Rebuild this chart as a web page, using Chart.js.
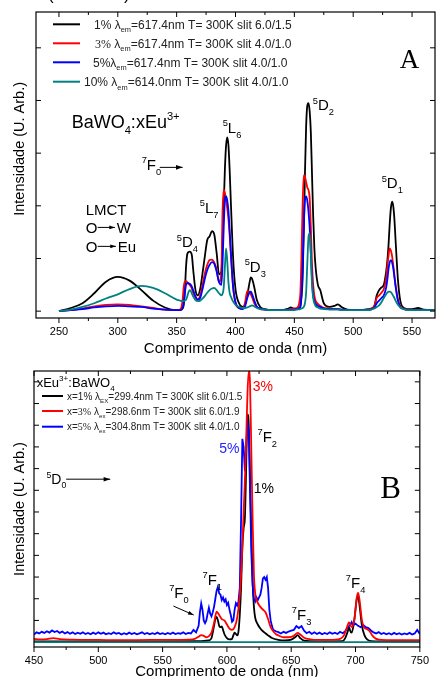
<!DOCTYPE html>
<html><head><meta charset="utf-8">
<script src="https://cdn.jsdelivr.net/npm/chart.js@4.4.1/dist/chart.umd.min.js"></script>
<style>
html,body{margin:0;padding:0;overflow:hidden;background:#fff;width:436px;height:677px}
#ca{position:absolute;left:0;top:0}
#cb{position:absolute;left:0;top:362px}
</style></head><body>
<canvas id="ca" width="436" height="362"></canvas>
<canvas id="cb" width="436" height="328"></canvas>
<script>
// ---------- Panel A: excitation spectra ----------
const wlA = [250,260,270,280,290,300,310,320,330,340,350,
  353,355,356,357,358,359,360,361,362,363,364,366,368,370,372,374,376,378,380,382,384,386,
  388,389,390,391,392,393,394,395,396,398,400,
  403,406,408,410,412,413,414,416,418,421,425,430,
  440,445,447,449,452,455,
  456,457,458,459,460,461,462,463,464,465,466,467,468,470,472,475,
  480,484,487,490,495,500,510,515,518,520,522,524,526,528,
  529,530,531,532,533,534,535,536,538,540,543,546,550,555,560,570];
const intA1 = [0,0.06,0.15,0.34,0.56,0.65,0.58,0.40,0.20,0.07,0.02,
  0.02,0.05,0.12,0.4,0.85,1.08,1.12,1.13,1.12,1.05,0.8,0.4,0.3,0.42,0.72,1.05,1.35,1.42,1.52,1.45,1.1,0.7,
  0.75,1.3,2.0,2.7,3.15,3.3,3.15,2.7,2.1,1.0,0.42,
  0.15,0.08,0.12,0.3,0.55,0.64,0.62,0.45,0.22,0.08,0.04,0.02,
  0.02,0.05,0.07,0.05,0.04,0.08,
  0.25,0.6,1.5,2.6,3.5,3.9,3.95,3.8,3.4,2.6,1.8,1.2,0.85,0.5,0.4,0.15,
  0.08,0.1,0.13,0.08,0.03,0.02,0.03,0.05,0.1,0.3,0.4,0.45,0.5,0.75,
  0.95,1.25,1.65,1.95,2.08,2.0,1.75,1.35,0.6,0.2,0.06,0.04,0.04,0.06,0.03,0.02];
const intA3 = [0,0.02,0.05,0.09,0.12,0.13,0.12,0.09,0.06,0.03,0.02,
  0.03,0.2,0.45,0.56,0.57,0.55,0.52,0.5,0.47,0.42,0.35,0.25,0.22,0.3,0.5,0.72,0.88,0.97,0.98,0.92,0.78,0.55,
  0.75,1.9,2.3,2.25,2.1,1.95,1.75,1.45,1.1,0.45,0.15,
  0.06,0.05,0.15,0.38,0.37,0.32,0.27,0.15,0.08,0.04,0.03,0.02,
  0.02,0.03,0.04,0.05,0.06,0.3,
  1.0,2.0,2.58,2.55,2.45,2.35,2.3,2.15,1.6,0.9,0.5,0.3,0.2,0.14,0.1,0.06,
  0.05,0.04,0.04,0.03,0.02,0.02,0.02,0.04,0.1,0.25,0.3,0.35,0.42,0.62,
  0.85,1.05,1.19,1.15,1.05,0.88,0.68,0.5,0.22,0.1,0.04,0.03,0.02,0.02,0.02,0.02];
const intA5 = [0,0.02,0.04,0.07,0.09,0.1,0.09,0.08,0.05,0.03,0.02,
  0.02,0.06,0.15,0.35,0.5,0.53,0.53,0.52,0.5,0.46,0.4,0.28,0.22,0.25,0.42,0.62,0.78,0.88,0.93,0.9,0.75,0.55,
  0.5,0.9,1.6,2.1,2.18,2.1,1.9,1.55,1.15,0.45,0.17,
  0.06,0.04,0.08,0.25,0.36,0.37,0.33,0.2,0.09,0.05,0.03,0.02,
  0.02,0.03,0.03,0.03,0.04,0.08,
  0.3,0.8,1.6,2.1,2.18,2.1,1.9,1.6,1.1,0.6,0.3,0.2,0.14,0.1,0.08,0.05,
  0.04,0.04,0.04,0.03,0.02,0.02,0.02,0.03,0.07,0.15,0.2,0.25,0.3,0.45,
  0.6,0.8,0.93,0.97,0.93,0.82,0.65,0.47,0.2,0.08,0.04,0.02,0.02,0.02,0.02,0.02];
const intA10 = [0,0.03,0.08,0.15,0.24,0.32,0.42,0.48,0.44,0.34,0.22,
  0.2,0.19,0.19,0.2,0.22,0.28,0.36,0.4,0.38,0.33,0.28,0.21,0.19,0.2,0.24,0.29,0.35,0.4,0.43,0.44,0.4,0.34,
  0.3,0.33,0.45,0.85,1.19,0.95,0.55,0.35,0.28,0.18,0.12,
  0.08,0.06,0.06,0.07,0.09,0.1,0.11,0.09,0.06,0.04,0.03,0.02,
  0.02,0.02,0.02,0.02,0.03,0.04,
  0.05,0.06,0.08,0.15,0.35,0.9,1.4,1.48,1.1,0.5,0.25,0.15,0.1,0.07,0.05,0.04,
  0.03,0.03,0.03,0.02,0.02,0.02,0.02,0.03,0.05,0.08,0.11,0.17,0.25,0.32,
  0.35,0.37,0.37,0.36,0.33,0.29,0.25,0.2,0.12,0.07,0.04,0.02,0.02,0.02,0.02,0.02];
const xTicksA = [250,300,350,400,450,500,550];
const xMinorA = [275,325,375,425,475,525];
const yTicksA = [0,1,2,3,4,5];

// ---------- Panel B: emission spectra ----------
const wlB1 = [450,500,550,580,586,588,590,591,592,593,594,595,596,597,598,600,602,604,605,606,607,608,609,610,611,612,613,614,615,616,617,618,619,620,621,622,624,626,628,630,632,635,640,645,650,653,655,657,660,670,690,692,694,695,696,697,699,701,702,703,705,707,709,712,720,750];
const intB1 = [0.3,0.3,0.3,0.4,0.6,1.5,6,8.5,9.3,8,6,5.5,5.8,4.5,3,1.5,1.0,1.2,2.5,3.5,3,2.5,4,10,20,35,42,46,65,84,80,60,40,22,13,9,6.5,5,4,3.3,2.5,1.5,0.8,0.6,0.9,1.8,2.6,1.5,0.5,0.3,0.4,1.5,4,5.5,4,3.5,8,16,17,14,6,2.5,1,0.4,0.3,0.3];
const wlB3 = [450,455,460,465,470,480,500,520,540,560,570,575,578,580,582,584,586,588,590,592,594,596,598,600,602,604,606,608,610,611,612,613,614,615,616,617,618,619,620,621,622,624,626,628,630,632,634,636,638,640,644,648,652,655,657,660,665,670,680,688,691,693,695,697,699,701,702,703,705,707,709,711,713,716,720,730,750];
const intB3 = [1.2,1.0,1.1,1.5,1.1,0.9,0.8,0.7,0.8,0.8,0.9,1.2,2.0,2.6,2.3,1.8,2.2,3.5,7,11.2,10,8.5,8.0,6.5,5.0,4.5,5.5,9,17,25,35,48,60,75,92,100,95,70,45,25,18,14.5,13,12,11,8.5,5.5,4,3,2.5,1.8,1.8,2.3,3.4,2.8,1.6,1.0,0.8,0.8,1.2,2.5,5,7.3,5.5,8,16.5,18.2,16,8,5.2,4.8,4.0,2.5,1.2,0.8,0.7,0.7];
const wlB5 = [450,452,454,456,458,460,462,464,466,468,470,472,474,476,478,480,482,484,486,488,490,492,494,496,498,500,502,504,506,508,510,512,514,516,518,520,522,524,526,528,530,532,534,536,538,540,542,544,546,548,550,552,554,556,558,560,562,564,566,568,570,572,
  574,576,578,579,580,581,582,583,584,585,586,587,588,589,590,591,592,593,594,595,596,597,598,599,600,601,602,603,604,605,606,607,608,609,610,611,612,613,614,615,616,617,618,619,620,621,622,623,624,625,626,627,628,629,630,631,632,633,634,635,636,638,640,642,644,646,648,650,652,654,656,658,660,662,664,666,668,670,672,674,676,678,680,682,684,686,688,690,692,694,696,697,698,700,702,704,706,708,710,712,714,716,718,720,722,724,726,728,730,732,734,736,738,740,742,744,746,748,750];
const intB5 = [2.8,3.6,3.2,3.8,3.4,4.0,3.5,4.3,3.7,4.1,3.4,3.9,3.2,3.7,3.1,3.6,3.0,3.5,3.1,3.6,3.0,3.4,2.9,3.5,3.0,3.6,3.1,3.5,2.9,3.3,3.0,3.6,3.1,3.4,2.8,3.3,2.9,3.5,3.0,3.4,2.9,3.2,3.6,3.0,3.4,2.9,3.3,3.0,3.5,3.0,3.3,2.9,3.4,3.0,3.5,3.0,3.3,3.1,3.6,3.0,3.4,3.2,
  4.5,3.6,6,11,14.3,12,8,7,8,10.5,12.7,10.5,9.5,11,13,16,19,20.4,18,17.5,15.5,16.5,15,15.8,13.7,14.5,12,10,7.5,8,12,14.4,13.5,15,20,45,75,72,63,72,81,78,55,33,21,16,15,16.5,15.5,16.5,17.5,20,23.5,24,23,24,20,12,8,6,4.5,4,3.7,3.2,3.8,3.4,3.9,4.2,4.5,5.9,5.2,5.9,4.2,3.3,3.8,3.0,3.6,3.0,3.5,2.9,3.4,3.0,3.6,3.1,3.5,3.0,3.8,3.3,4.0,5.5,6.5,7.4,6.2,6.8,6.0,5.5,6.3,5.5,5.2,4.3,3.6,3.2,3.7,3.0,3.4,2.9,3.3,2.8,3.4,2.9,3.3,2.8,3.2,2.9,3.4,2.8,3.2,4.5,3.0];
const wlB10 = [450,750];
const intB10 = [0,0];
const xTicksB = [450,500,550,600,650,700,750];
const xMinorB = [475,525,575,625,675,725];
const yTicksB = [8,16,24,32,40,48,56,64,72,80,88,96];

// ---------- helpers ----------
const FONT = '"Liberation Sans", Arial, sans-serif';
const SERIF = '"Liberation Serif", "Times New Roman", serif';
const pts = (xs, ys) => xs.map((v, i) => ({x: v, y: ys[i]}));

function richText(ctx, x, y, str, size, color, family) {
  const re = /(\^\{[^}]*\}|_\{[^}]*\}|~\{[^}]*\}|[^\^_~]+)/g;
  let cx = x, m;
  ctx.fillStyle = color || '#000';
  ctx.textBaseline = 'alphabetic';
  ctx.textAlign = 'left';
  while ((m = re.exec(str))) {
    let t = m[0], sz = size, dy = 0, fam = family || FONT;
    if (t[0] === '^') { t = t.slice(2, -1); sz = size * 0.62; dy = -size * 0.45; }
    else if (t[0] === '_') { t = t.slice(2, -1); sz = size * 0.62; dy = size * 0.3; }
    else if (t[0] === '~') { t = t.slice(2, -1); fam = SERIF; }
    ctx.font = sz + 'px ' + fam;
    ctx.fillText(t, cx, y + dy);
    cx += ctx.measureText(t).width;
  }
  return cx;
}
function arrow(ctx, x1, y1, x2, y2, h) {
  ctx.strokeStyle = '#000'; ctx.fillStyle = '#000'; ctx.lineWidth = 1;
  ctx.beginPath(); ctx.moveTo(x1, y1); ctx.lineTo(x2, y2); ctx.stroke();
  const a = Math.atan2(y2 - y1, x2 - x1);
  ctx.beginPath(); ctx.moveTo(x2, y2);
  ctx.lineTo(x2 - h * Math.cos(a - 0.33), y2 - h * Math.sin(a - 0.33));
  ctx.lineTo(x2 - h * Math.cos(a + 0.33), y2 - h * Math.sin(a + 0.33));
  ctx.closePath(); ctx.fill();
}
function makeDeco(cfg) {
  return {
    id: 'deco',
    afterDraw(chart) {
      const {ctx, chartArea: a, scales: {x, y}} = chart;
      ctx.save();
      ctx.strokeStyle = '#000'; ctx.lineWidth = 1.2;
      ctx.strokeRect(a.left, a.top, a.right - a.left, a.bottom - a.top);
      ctx.lineWidth = 1;
      const tk = (vals, len) => vals.forEach(v => {
        const p = x.getPixelForValue(v);
        ctx.beginPath(); ctx.moveTo(p, a.bottom); ctx.lineTo(p, a.bottom + len);
        ctx.moveTo(p, a.top); ctx.lineTo(p, a.top + len); ctx.stroke();
      });
      tk(cfg.xMajor, 5); tk(cfg.xMinor, 3);
      cfg.yMajor.forEach(v => {
        const p = y.getPixelForValue(v);
        ctx.beginPath(); ctx.moveTo(a.left, p); ctx.lineTo(a.left + 5, p);
        ctx.moveTo(a.right, p); ctx.lineTo(a.right - 5, p); ctx.stroke();
      });
      cfg.legend.forEach(l => {
        ctx.strokeStyle = l.c; ctx.lineWidth = 2;
        ctx.beginPath(); ctx.moveTo(a.left + cfg.legX1, a.top + l.dy); ctx.lineTo(a.left + cfg.legX2, a.top + l.dy); ctx.stroke();
        richText(ctx, a.left + l.dx, a.top + l.dy + cfg.legSize * 0.36, l.t, cfg.legSize, '#222');
      });
      cfg.labels.forEach(l => {
        richText(ctx, x.getPixelForValue(l.x), y.getPixelForValue(l.y), l.t, l.s, l.c, l.f);
      });
      cfg.arrows.forEach(r => {
        arrow(ctx, x.getPixelForValue(r.x1), y.getPixelForValue(r.y1), x.getPixelForValue(r.x2), y.getPixelForValue(r.y2), r.h || 7);
      });
      if (cfg.extra) cfg.extra(ctx, a);
      ctx.restore();
    }
  };
}
function ds(label, xs, ys, color, order, tension) {
  return {label, data: pts(xs, ys), borderColor: color, backgroundColor: color, order,
    borderWidth: 1.8, pointRadius: 0, tension: tension, cubicInterpolationMode: tension ? 'monotone' : 'default', fill: false};
}
function opts(c) {
  return {
    responsive: false, animation: false, devicePixelRatio: 1,
    layout: {padding: c.pad},
    plugins: {legend: {display: false}, tooltip: {enabled: false}},
    scales: {
      x: {type: 'linear', min: c.xmin, max: c.xmax,
        afterBuildTicks: s => { s.ticks = c.xt.map(v => ({value: v})); },
        afterFit: s => { s.height = c.xh; },
        grid: {display: false, drawTicks: false}, border: {display: false},
        ticks: {padding: 7, autoSkip: false, maxRotation: 0, color: '#000', font: {size: 11, family: FONT}, callback: v => String(v)},
        title: {display: true, text: 'Comprimento de onda (nm)', color: '#000', font: {size: 15, family: FONT}, padding: {top: 0, bottom: c.tpb}}},
      y: {type: 'linear', min: c.ymin, max: c.ymax,
        afterFit: s => { s.width = c.yw; },
        grid: {display: false, drawTicks: false}, border: {display: false},
        ticks: {display: false},
        title: {display: true, text: c.ytitle, color: '#000', font: {size: 14.5, family: FONT}, padding: {top: 11, bottom: 0}}}
    }
  };
}

// ---------- Chart A ----------
const decoA = makeDeco({
  xMajor: xTicksA, xMinor: xMinorA, yMajor: yTicksA,
  legX1: 17, legX2: 44, legSize: 12,
  legend: [
    {c: '#000000', dy: 12.3, dx: 58, t: '1% λ_{em}=617.4nm T= 300K slit 6.0/1.5'},
    {c: '#ff0000', dy: 31.3, dx: 59, t: '~{3%} λ_{em}=617.4nm T= 300K slit 4.0/1.0'},
    {c: '#0000ff', dy: 50.3, dx: 57, t: '5%λ_{em}=617.4nm T= 300K slit 4.0/1.0'},
    {c: '#008080', dy: 69.7, dx: 48, t: '10% λ_{em}=614.0nm T= 300K slit 4.0/1.0'}
  ],
  labels: [
    {t: 'BaWO_{4}:xEu^{3+}', x: 260.8, y: 3.47, s: 18},
    {t: '^{5}D_{2}', x: 465.6, y: 3.81, s: 15},
    {t: '^{5}L_{6}', x: 389.1, y: 3.38, s: 15},
    {t: '^{5}D_{1}', x: 524.2, y: 2.33, s: 15},
    {t: '^{5}L_{7}', x: 369.6, y: 1.86, s: 15},
    {t: '^{5}D_{4}', x: 350.1, y: 1.21, s: 15},
    {t: '^{5}D_{3}', x: 407.8, y: 0.74, s: 15},
    {t: '^{7}F_{0}', x: 320.3, y: 2.68, s: 15},
    {t: 'LMCT', x: 272.7, y: 1.82, s: 15},
    {t: 'O', x: 272.7, y: 1.48, s: 15},
    {t: 'W', x: 299.1, y: 1.48, s: 15},
    {t: 'O', x: 272.7, y: 1.12, s: 15},
    {t: 'Eu', x: 299.9, y: 1.12, s: 15},
    {t: 'A', x: 539.5, y: 4.61, s: 27, f: SERIF}
  ],
  arrows: [
    {x1: 335.6, y1: 2.73, x2: 355.1, y2: 2.73},
    {x1: 282.9, y1: 1.59, x2: 297.6, y2: 1.59, h: 6},
    {x1: 282.9, y1: 1.23, x2: 298.4, y2: 1.23, h: 6}
  ],
  extra: (ctx) => {
    ctx.fillStyle = '#000'; ctx.font = '17px ' + FONT; ctx.textBaseline = 'alphabetic';
    ctx.fillText('(', 48, 0); ctx.fillText(')', 124, 0);
  }
});
new Chart(document.getElementById('ca'), {
  type: 'line',
  data: {datasets: [
    ds('10%', wlA, intA10, '#008080', 0, 0.4),
    ds('5%', wlA, intA5, '#0000ff', 1, 0.4),
    ds('3%', wlA, intA3, '#ff0000', 2, 0.4),
    ds('1%', wlA, intA1, '#000000', 3, 0.4)
  ]},
  options: opts({pad: {top: 12, right: 1, left: 0, bottom: 0}, xmin: 230.5, xmax: 569.5, xt: xTicksA, xh: 44, tpb: 4.2,
    ymin: -0.13, ymax: 5.68, yw: 36, ytitle: '\u00a0\u00a0\u00a0\u00a0\u00a0\u00a0\u00a0\u00a0Intensidade (U. Arb.)'}),
  plugins: [decoA]
});

// ---------- Chart B ----------
const decoB = makeDeco({
  xMajor: xTicksB, xMinor: xMinorB, yMajor: yTicksB,
  legX1: 8, legX2: 29, legSize: 10,
  legend: [
    {c: '#000000', dy: 25, dx: 33, t: 'x=1% λ_{EX}=299.4nm T= 300K slit 6.0/1.5'},
    {c: '#ff0000', dy: 40, dx: 33, t: 'x=~{3%} λ_{ex}=298.6nm T= 300K slit 6.0/1.9'},
    {c: '#0000ff', dy: 55.7, dx: 33, t: 'x=~{5%} λ_{ex}=304.8nm T= 300K slit 4.0/1.0'}
  ],
  labels: [
    {t: 'xEu^{3+}:BaWO_{4}', x: 452.1, y: 94.1, s: 13},
    {t: '3%', x: 620.0, y: 92.6, s: 14, c: '#ff0000'},
    {t: '^{7}F_{2}', x: 623.8, y: 73.8, s: 15},
    {t: '5%', x: 594.0, y: 69.7, s: 14, c: '#2222ff'},
    {t: '1%', x: 620.8, y: 55, s: 14},
    {t: 'B', x: 719.2, y: 53.1, s: 31, f: SERIF},
    {t: '^{5}D_{0}', x: 459.7, y: 58.3, s: 14},
    {t: '^{7}F_{0}', x: 555.1, y: 16.2, s: 15},
    {t: '^{7}F_{1}', x: 581.0, y: 21.0, s: 15},
    {t: '^{7}F_{3}', x: 650.5, y: 8.1, s: 15},
    {t: '^{7}F_{4}', x: 692.5, y: 19.9, s: 15}
  ],
  arrows: [
    {x1: 475, y1: 60.1, x2: 509.3, y2: 60.1},
    {x1: 558.4, y1: 13.3, x2: 574.2, y2: 10.0, h: 6}
  ]
});
new Chart(document.getElementById('cb'), {
  type: 'line',
  data: {datasets: [
    ds('10%', wlB10, intB10, '#008080', 0, 0),
    ds('x=5%', wlB5, intB5, '#0000ff', 2, 0),
    ds('x=3%', wlB3, intB3, '#ff0000', 1, 0.4),
    ds('x=1%', wlB1, intB1, '#000000', 3, 0.4)
  ]},
  options: opts({pad: {top: 9, right: 9, left: 0, bottom: 0}, xmin: 450, xmax: 750, xt: xTicksB, xh: 43, tpb: 9,
    ymin: -1.8, ymax: 100, yw: 34, ytitle: 'Intensidade (U. Arb.)'}),
  plugins: [decoB]
});
</script>
</body></html>
